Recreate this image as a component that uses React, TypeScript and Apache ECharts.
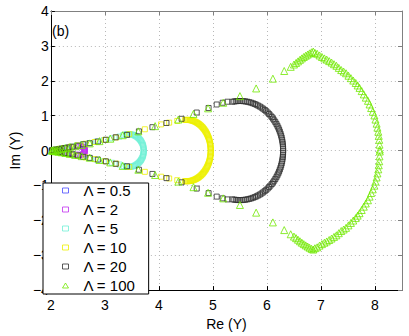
import React, { useEffect, useRef } from "react";
import * as echarts from "echarts";

const seriesNames = ["Λ = 0.5", "Λ = 2", "Λ = 5", "Λ = 10", "Λ = 20", "Λ = 100"];
const xTicks = [2, 3, 4, 5, 6, 7, 8];
const yTicks = [-4, -3, -2, -1, 0, 1, 2, 3, 4];

const lambda05 = [
  [2.02, 0.006], [2.05, 0.015], [2.08, 0.024], [2.11, 0.03], [2.13, 0.02], [2.14, 0],
  [2.13, -0.02], [2.11, -0.03], [2.08, -0.024], [2.05, -0.015], [2.02, -0.006],
];

const lambda2 = [
  [2.05, 0.012], [2.1, 0.025], [2.15, 0.04], [2.2, 0.055], [2.26, 0.07], [2.33, 0.085],
  [2.4, 0.1], [2.47, 0.115], [2.53, 0.125], [2.57, 0.12], [2.595, 0.105], [2.61, 0.085],
  [2.62, 0.06], [2.625, 0.035], [2.628, 0.01], [2.628, -0.01], [2.625, -0.035], [2.62, -0.06],
  [2.61, -0.085], [2.595, -0.105], [2.57, -0.12], [2.53, -0.125], [2.47, -0.115], [2.4, -0.1],
  [2.33, -0.085], [2.26, -0.07], [2.2, -0.055], [2.15, -0.04], [2.1, -0.025], [2.05, -0.012],
];

const lambda5 = [
  [2.03, 0.008], [2.08, 0.022], [2.14, 0.04], [2.21, 0.06], [2.29, 0.085], [2.38, 0.112],
  [2.48, 0.145], [2.59, 0.18], [2.71, 0.215], [2.84, 0.258], [2.98, 0.3], [3.13, 0.35],
  [3.27, 0.4], [3.34, 0.44], [3.391, 0.463], [3.44, 0.47], [3.489, 0.463], [3.536, 0.442],
  [3.58, 0.407], [3.62, 0.36], [3.654, 0.302], [3.682, 0.235], [3.703, 0.161], [3.716, 0.082],
  [3.72, 0], [3.716, -0.082], [3.703, -0.161], [3.682, -0.235], [3.654, -0.302], [3.62, -0.36],
  [3.58, -0.407], [3.536, -0.442], [3.489, -0.463], [3.44, -0.47], [3.391, -0.463], [3.34, -0.44],
  [3.27, -0.4], [3.13, -0.35], [2.98, -0.3], [2.84, -0.258], [2.71, -0.215], [2.59, -0.18],
  [2.48, -0.145], [2.38, -0.112], [2.29, -0.085], [2.21, -0.06], [2.14, -0.04], [2.08, -0.022],
  [2.03, -0.008],
  [3.416, 0.468], [3.464, 0.468], [3.512, 0.454], [3.558, 0.426], [3.601, 0.385], [3.638, 0.332],
  [3.669, 0.27], [3.694, 0.199], [3.71, 0.122], [3.719, 0.041],
  [3.719, -0.041], [3.71, -0.122], [3.694, -0.199], [3.669, -0.27], [3.638, -0.332],
  [3.601, -0.385], [3.558, -0.426], [3.512, -0.454], [3.464, -0.468], [3.416, -0.468],
];

const lambda10 = [
  [2.03, 0.008], [2.09, 0.026], [2.16, 0.048], [2.25, 0.075], [2.36, 0.108], [2.49, 0.148],
  [2.64, 0.195], [2.81, 0.245], [3.0, 0.305], [3.21, 0.375], [3.45, 0.47], [3.74, 0.61],
  [4.04, 0.75], [4.19, 0.8], [4.34, 0.85], [4.482, 0.876], [4.52, 0.88], [4.558, 0.876],
  [4.597, 0.867], [4.634, 0.85], [4.67, 0.827], [4.706, 0.797], [4.74, 0.762], [4.773, 0.721],
  [4.803, 0.674], [4.831, 0.622], [4.857, 0.566], [4.88, 0.505], [4.901, 0.44], [4.919, 0.372],
  [4.934, 0.301], [4.945, 0.228], [4.953, 0.153], [4.958, 0.077], [4.96, 0],
  [4.958, -0.077], [4.953, -0.153], [4.945, -0.228], [4.934, -0.301], [4.919, -0.372],
  [4.901, -0.44], [4.88, -0.505], [4.857, -0.566], [4.831, -0.622], [4.803, -0.674],
  [4.773, -0.721], [4.74, -0.762], [4.706, -0.797], [4.67, -0.827], [4.634, -0.85],
  [4.597, -0.867], [4.558, -0.876], [4.52, -0.88], [4.482, -0.876], [4.34, -0.85],
  [4.19, -0.8], [4.04, -0.75], [3.74, -0.61], [3.45, -0.47], [3.21, -0.375], [3.0, -0.305],
  [2.81, -0.245], [2.64, -0.195], [2.49, -0.148], [2.36, -0.108], [2.25, -0.075],
  [2.16, -0.048], [2.09, -0.026], [2.03, -0.008],
  [4.501, 0.879], [4.539, 0.879], [4.577, 0.872], [4.615, 0.859], [4.652, 0.839], [4.688, 0.813],
  [4.723, 0.781], [4.756, 0.742], [4.788, 0.698], [4.817, 0.649], [4.844, 0.595], [4.869, 0.536],
  [4.891, 0.473], [4.91, 0.406], [4.927, 0.337], [4.94, 0.265], [4.95, 0.19], [4.956, 0.115],
  [4.96, 0.038],
  [4.96, -0.038], [4.956, -0.115], [4.95, -0.19], [4.94, -0.265], [4.927, -0.337], [4.91, -0.406],
  [4.891, -0.473], [4.869, -0.536], [4.844, -0.595], [4.817, -0.649], [4.788, -0.698],
  [4.756, -0.742], [4.723, -0.781], [4.688, -0.813], [4.652, -0.839], [4.615, -0.859],
  [4.577, -0.872], [4.539, -0.879], [4.501, -0.879],
];

const lambda20 = [
  [2.02, 0.005], [2.06, 0.015], [2.1, 0.025], [2.15, 0.04], [2.2, 0.055], [2.26, 0.07],
  [2.33, 0.09], [2.4, 0.11], [2.5, 0.14], [2.6, 0.18], [2.72, 0.21], [2.87, 0.26],
  [3.02, 0.31], [3.2, 0.38], [3.41, 0.45], [3.63, 0.55], [3.88, 0.67], [4.14, 0.79],
  [4.42, 0.91], [4.7, 1.09], [4.92, 1.22], [5.07, 1.32], [5.18, 1.37], [5.27, 1.4],
  [5.361, 1.399], [5.43, 1.414], [5.5, 1.42], [5.57, 1.414], [5.639, 1.399], [5.707, 1.372],
  [5.774, 1.334], [5.838, 1.287], [5.9, 1.23], [5.959, 1.163], [6.014, 1.088], [6.066, 1.004],
  [6.113, 0.913], [6.155, 0.815], [6.193, 0.71], [6.225, 0.601], [6.252, 0.486], [6.273, 0.368],
  [6.288, 0.247], [6.297, 0.124], [6.3, 0],
  [6.297, -0.124], [6.288, -0.247], [6.273, -0.368], [6.252, -0.486], [6.225, -0.601],
  [6.193, -0.71], [6.155, -0.815], [6.113, -0.913], [6.066, -1.004], [6.014, -1.088],
  [5.959, -1.163], [5.9, -1.23], [5.838, -1.287], [5.774, -1.334], [5.707, -1.372],
  [5.639, -1.399], [5.57, -1.414], [5.5, -1.42], [5.43, -1.414], [5.361, -1.399],
  [5.27, -1.4], [5.18, -1.37], [5.07, -1.32], [4.92, -1.22], [4.7, -1.09], [4.42, -0.91],
  [4.14, -0.79], [3.88, -0.67], [3.63, -0.55], [3.41, -0.45], [3.2, -0.38], [3.02, -0.31],
  [2.87, -0.26], [2.72, -0.21], [2.6, -0.18], [2.5, -0.14], [2.4, -0.11], [2.33, -0.09],
  [2.26, -0.07], [2.2, -0.055], [2.15, -0.04], [2.1, -0.025], [2.06, -0.015], [2.02, -0.005],
  [5.396, 1.408], [5.465, 1.419], [5.535, 1.419], [5.604, 1.408], [5.673, 1.386], [5.741, 1.354],
  [5.806, 1.312], [5.869, 1.26], [5.93, 1.198], [5.987, 1.127], [6.04, 1.047], [6.09, 0.959],
  [6.135, 0.864], [6.175, 0.763], [6.21, 0.656], [6.239, 0.543], [6.263, 0.427], [6.281, 0.307],
  [6.293, 0.185], [6.299, 0.062],
  [6.299, -0.062], [6.293, -0.185], [6.281, -0.307], [6.263, -0.427], [6.239, -0.543],
  [6.21, -0.656], [6.175, -0.763], [6.135, -0.864], [6.09, -0.959], [6.04, -1.047],
  [5.987, -1.127], [5.93, -1.198], [5.869, -1.26], [5.806, -1.312], [5.741, -1.354],
  [5.673, -1.386], [5.604, -1.408], [5.535, -1.419], [5.465, -1.419], [5.396, -1.408],
];

const lambda100 = [
  [2.02, 0.005], [2.05, 0.012], [2.09, 0.022], [2.14, 0.035], [2.2, 0.05], [2.27, 0.07],
  [2.35, 0.095], [2.45, 0.125], [2.57, 0.16], [2.72, 0.205], [2.9, 0.27], [3.1, 0.34],
  [3.33, 0.44], [3.62, 0.55], [3.93, 0.7], [4.36, 0.89], [4.64, 1.05], [4.91, 1.21],
  [5.19, 1.37], [5.5, 1.56], [5.8, 1.78], [6.11, 2.06], [6.32, 2.28], [6.44, 2.4],
  [6.5, 2.466], [6.539, 2.511], [6.575, 2.556], [6.611, 2.601], [6.646, 2.642], [6.682, 2.682],
  [6.718, 2.718], [6.754, 2.751], [6.789, 2.785], [6.825, 2.816], [6.857, 2.838], [6.888, 2.8],
  [6.929, 2.774], [6.973, 2.726], [7.018, 2.682], [7.063, 2.642], [7.107, 2.606], [7.152, 2.564],
  [7.196, 2.522], [7.241, 2.475], [7.286, 2.43], [7.33, 2.369], [7.375, 2.307], [7.42, 2.263],
  [7.464, 2.215], [7.509, 2.145], [7.554, 2.075], [7.598, 2.006], [7.643, 1.936], [7.679, 1.866],
  [7.714, 1.796], [7.754, 1.704], [7.793, 1.609], [7.83, 1.517], [7.87, 1.425], [7.9, 1.321],
  [7.929, 1.218], [7.959, 1.112], [7.989, 1.006], [8.009, 0.888], [8.03, 0.771], [8.045, 0.656],
  [8.061, 0.539], [8.07, 0.422], [8.079, 0.307], [8.084, 0.168], [8.089, 0.028],
  [8.089, -0.028], [8.084, -0.168], [8.079, -0.307], [8.07, -0.422], [8.061, -0.539],
  [8.045, -0.656], [8.03, -0.771], [8.009, -0.888], [7.989, -1.006], [7.959, -1.112],
  [7.929, -1.218], [7.9, -1.321], [7.87, -1.425], [7.83, -1.517], [7.793, -1.609],
  [7.754, -1.704], [7.714, -1.796], [7.679, -1.866], [7.643, -1.936], [7.598, -2.006],
  [7.554, -2.075], [7.509, -2.145], [7.464, -2.215], [7.42, -2.263], [7.375, -2.307],
  [7.33, -2.369], [7.286, -2.43], [7.241, -2.475], [7.196, -2.522], [7.152, -2.564],
  [7.107, -2.606], [7.063, -2.642], [7.018, -2.682], [6.973, -2.726], [6.929, -2.774],
  [6.888, -2.8], [6.857, -2.838], [6.825, -2.816], [6.789, -2.785], [6.754, -2.751],
  [6.718, -2.718], [6.682, -2.682], [6.646, -2.642], [6.611, -2.601], [6.575, -2.556],
  [6.539, -2.511], [6.5, -2.466], [6.44, -2.4], [6.32, -2.28], [6.11, -2.06], [5.8, -1.78],
  [5.5, -1.56], [5.19, -1.37], [4.91, -1.21], [4.64, -1.05], [4.36, -0.89], [3.93, -0.7],
  [3.62, -0.55], [3.33, -0.44], [3.1, -0.34], [2.9, -0.27], [2.72, -0.205], [2.57, -0.16],
  [2.45, -0.125], [2.35, -0.095], [2.27, -0.07], [2.2, -0.05], [2.14, -0.035], [2.09, -0.022],
  [2.05, -0.012], [2.02, -0.005],
];

const seriesData = [lambda05, lambda2, lambda5, lambda10, lambda20, lambda100];
const seriesColors = ["#4a4aff", "#c030f0", "#6ff0d6", "#eef000", "#303030", "#70e800"];
const seriesSymbols = ["rect", "rect", "rect", "rect", "rect", "triangle"];
const seriesSizes = [5, 5, 5, 5, 5, 7];

const FONT = "Liberation Sans, Arial, Helvetica, sans-serif";

export default function App() {
  const ref = useRef<HTMLDivElement>(null);
  useEffect(() => {
    document.body.style.margin = "0";
    const chart = echarts.init(ref.current!, undefined, { renderer: "svg" });
    const minus = (v: number) => String(v).replace("-", "\u2212");
    const mirrorAxisCommon = {
      axisLabel: { show: false },
      axisTick: { show: true, inside: true, length: 4, lineStyle: { color: "#808080" } },
      axisLine: { show: true, onZero: false, lineStyle: { color: "#808080" } },
      splitLine: { show: false },
    };
    chart.setOption({
      animation: false,
      backgroundColor: "#fff",
      textStyle: { fontFamily: FONT },
      grid: { left: 37, right: 7, top: 11, bottom: 39, containLabel: false },
      xAxis: [
        {
          type: "value",
          min: 2,
          max: 8.5,
          interval: 1,
          name: "Re (Y)",
          nameLocation: "middle",
          nameGap: 21,
          nameTextStyle: { fontSize: 14, color: "#000", fontFamily: FONT },
          axisLine: { show: true, onZero: false, lineStyle: { color: "#000" } },
          axisTick: { show: true, inside: true, length: 4, lineStyle: { color: "#000" } },
          axisLabel: {
            showMaxLabel: false,
            fontSize: 14,
            color: "#000",
            margin: 8,
            fontFamily: FONT,
            formatter: (v: number) => (xTicks.includes(v) ? minus(v) : ""),
          },
          splitLine: { show: true, lineStyle: { color: "#b8b8b8", type: [1, 3], width: 1 } },
        },
        { type: "value", position: "top", min: 2, max: 8.5, interval: 1, ...mirrorAxisCommon },
      ],
      yAxis: [
        {
          type: "value",
          min: -4,
          max: 4,
          interval: 1,
          name: "Im (Y)",
          nameLocation: "middle",
          nameGap: 16,
          nameTextStyle: { fontSize: 14, color: "#000", fontFamily: FONT },
          axisLine: { show: true, onZero: false, lineStyle: { color: "#000" } },
          axisTick: { show: true, inside: true, length: 4, lineStyle: { color: "#000" } },
          axisLabel: {
            fontSize: 14,
            color: "#000",
            margin: 2,
            fontFamily: FONT,
            formatter: (v: number) => (yTicks.includes(v) ? minus(v) : ""),
          },
          splitLine: { show: true, lineStyle: { color: "#b8b8b8", type: [1, 3], width: 1 } },
        },
        { type: "value", position: "right", min: -4, max: 4, interval: 1, ...mirrorAxisCommon },
      ],
      legend: {
        orient: "vertical",
        left: 43,
        top: 183,
        backgroundColor: "#fff",
        borderColor: "#000",
        borderWidth: 1,
        borderRadius: 0,
        padding: [0, 13, 1, 19],
        itemWidth: 6,
        itemHeight: 5,
        itemGap: 4,
        selectedMode: false,
        itemStyle: { color: "rgba(0,0,0,0)", borderWidth: 1 },
        textStyle: { fontSize: 15, color: "#000", fontFamily: FONT, lineHeight: 15, padding: [0, 0, 0, 10] },
        data: seriesNames,
      },
      graphic: [
        {
          type: "text",
          left: 52,
          top: 24,
          style: { text: "(b)", fontSize: 14, fill: "#000", fontFamily: FONT },
        },
      ],
      series: seriesData.map((d, i) => ({
        type: "scatter",
        name: seriesNames[i],
        data: d,
        symbol: seriesSymbols[i],
        symbolSize: seriesSizes[i],
        xAxisIndex: 0,
        yAxisIndex: 0,
        itemStyle: { color: "rgba(0,0,0,0)", borderColor: seriesColors[i], borderWidth: 1 },
        emphasis: { disabled: true },
      })),
    });
    return () => chart.dispose();
  }, []);
  return <div ref={ref} style={{ width: 409, height: 336 }} />;
}
